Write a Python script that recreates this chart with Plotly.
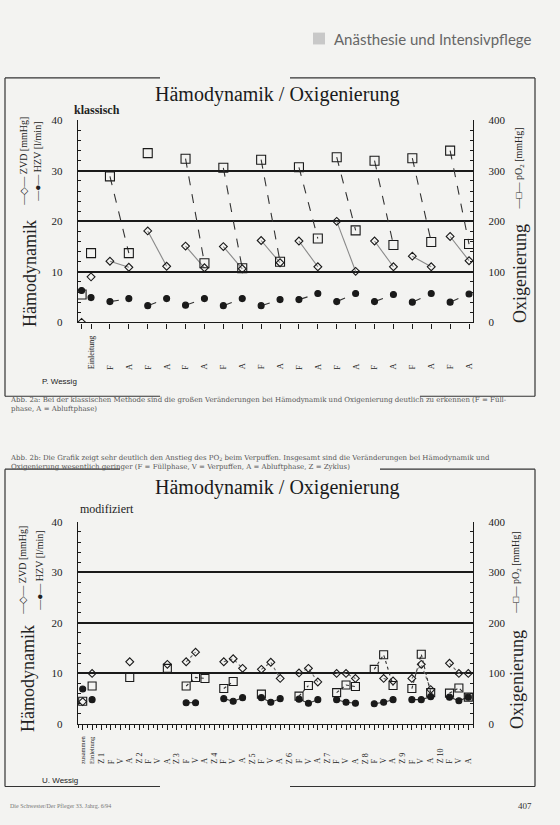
import plotly.graph_objects as go

W, H = 560, 825
def px(x): return x / W
def py(y): return 1 - y / H

# ---------------- data: top chart (klassisch) ----------------
top_pos = [-0.5, 0, 1, 2, 3, 4, 5, 6, 7, 8, 9, 10, 11, 12, 13, 14, 15, 16, 17, 18, 19, 20]
top_labels = ["Einleitung", "F", "A", "F", "A", "F", "A", "F", "A", "F", "A",
              "F", "A", "F", "A", "F", "A", "F", "A", "F", "A"]
top_zvd = [0, 9.0, 12.1, 10.9, 18.1, 11.1, 15.1, 10.8, 15.0, 10.6, 16.2, 11.8,
           16.1, 11.0, 20.0, 10.1, 16.1, 11.0, 13.1, 11.0, 17.0, 12.2]
top_hzv = [6.3, 4.9, 4.1, 4.7, 3.3, 4.7, 3.4, 4.7, 3.3, 4.7, 3.3, 4.5,
           4.5, 5.7, 4.1, 5.7, 4.1, 5.5, 4.0, 5.7, 4.0, 5.6]
top_po2 = [55, 137, 289, 137, 335, None, 324, 117, 306, 107, 322, 120,
           307, 166, 327, 182, 320, 153, 325, 159, 340, 155]

# ---------------- data: bottom chart (modifiziert) ----------------
bot_pos = [0, 1, 5, 9, 11, 12, 13, 15, 16, 17, 19, 20, 21, 23, 24, 25,
           27, 28, 29, 31, 32, 33, 35, 36, 37, 39, 40, 41]
bot_group = [0, 1, 2, 3, 4, 4, 4, 5, 5, 5, 6, 6, 6, 7, 7, 7,
             8, 8, 8, 9, 9, 9, 10, 10, 10, 11, 11, 11]
bot_zvd = [4.4, 10.0, 12.3, 11.8, 12.3, 14.2, None, 12.3, 12.9, 11.0, 10.8, 12.2, 9.0,
           10.1, 11.0, 8.3, 10.0, 10.0, 9.0, None, 9.0, 8.5, 9.0, 11.8, 6.8, 12.0, 10.0, 10.0]
bot_hzv = [6.9, 4.8, None, None, 4.2, 4.2, None, 5.0, 4.5, 5.2, 5.2, 4.3, 5.0,
           4.9, 4.1, 4.8, 4.8, 4.3, 4.1, 4.0, 4.3, 4.8, 4.8, 4.8, 5.4, 5.3, 4.6, 5.3]
bot_po2 = [45, 75, 92, 110, 75, 92, 90, 70, 84, None, 59, None, None,
           55, 76, None, 62, 77, 74, 108, 137, 76, 70, 138, 62, 61, 71, 53]
bot_labels = ["zusammen", "Einleitung"] + sum([["Z " + str(n), "F", "V", "A"] for n in range(1, 11)], [])

# ---------------- helpers ----------------
def pairs(pos, vals, groups):
    xs, ys = [], []
    last = None
    for p, v, g in zip(pos, vals, groups):
        if last is not None and g != last:
            xs.append(None); ys.append(None)
        xs.append(p); ys.append(v)
        last = g
    return xs, ys

top_group = [0, 1] + [2 + (i // 2) for i in range(20)]

fig = go.Figure()
INK = "#1a1a1a"
CLEAR = "rgba(255,255,255,0)"

def add_series(xa, ya, pos, vals, groups, symbol, size, dash, lcolor, mfill):
    xs, ys = pairs(pos, vals, groups)
    fig.add_trace(go.Scatter(
        x=xs, y=ys, xaxis=xa, yaxis=ya, mode="lines+markers",
        connectgaps=False,
        line=dict(color=lcolor, width=1.1, dash=dash),
        marker=dict(symbol=symbol, size=size, color=mfill,
                    line=dict(color=INK, width=1.1)),
        showlegend=False, hoverinfo="skip"))

# top chart
add_series("x", "y2", top_pos, top_po2, top_group, "square", 9, "dash", "#333", CLEAR)
add_series("x", "y", top_pos, top_zvd, top_group, "diamond", 6, "solid", "#888", CLEAR)
add_series("x", "y", top_pos, top_hzv, top_group, "circle", 6, "dash", "#333", INK)
# bottom chart
add_series("x2", "y4", bot_pos, bot_po2, bot_group, "square", 8, "dot", "#333", CLEAR)
add_series("x2", "y3", bot_pos, bot_zvd, bot_group, "diamond", 6, "dot", "#666", CLEAR)
add_series("x2", "y3", bot_pos, bot_hzv, bot_group, "circle", 6, "solid", "#333", INK)

SERIF = "Liberation Serif"
BG = "#f3f3f1"
tickfont = dict(family=SERIF, size=11, color="#222")

xdom = [px(78), px(473)]
top_ydom = [py(321), py(116)]
bot_ydom = [py(728.5), py(523.5)]

def yleft(dom, anchor):
    return dict(domain=dom, anchor=anchor, range=[0, 40], tickvals=[0, 10, 20, 30, 40],
                showgrid=True, gridcolor=INK, gridwidth=1.6, zeroline=False,
                showline=True, linecolor=INK, linewidth=1.4, ticks="inside", ticklen=4,
                tickcolor=INK, ticklabelstandoff=12, tickfont=tickfont,
                minor=dict(dtick=2, ticks="inside", ticklen=3, tickcolor=INK))

def yright(over, anchor):
    return dict(overlaying=over, anchor=anchor, side="right", range=[0, 400],
                tickvals=[0, 100, 200, 300, 400], showgrid=False, zeroline=False,
                showline=True, linecolor=INK, linewidth=1.4, ticks="inside", ticklen=4,
                tickcolor=INK, ticklabelstandoff=12, tickfont=tickfont,
                minor=dict(dtick=20, ticks="inside", ticklen=3, tickcolor=INK))

fig.update_layout(
    width=W, height=H, margin=dict(l=0, r=0, t=0, b=0),
    paper_bgcolor=BG, plot_bgcolor=BG, showlegend=False,
    xaxis=dict(domain=xdom, anchor="y", range=[-0.69, 20.21],
               tickvals=[-0.5] + list(range(0, 21)), showticklabels=False,
               ticks="outside", ticklen=5, tickcolor=INK, showgrid=False, zeroline=False,
               showline=True, linecolor=INK, linewidth=1.4),
    yaxis=yleft(top_ydom, "x"),
    yaxis2=yright("y", "x"),
    xaxis2=dict(domain=xdom, anchor="y3", range=[-0.5, 41.5],
                tickvals=list(range(0, 42)), showticklabels=False,
                ticks="outside", ticklen=5, tickcolor=INK, showgrid=False, zeroline=False,
                showline=True, linecolor=INK, linewidth=1.4,
                minor=dict(dtick=0.5, tick0=0, ticks="outside", ticklen=3, tickcolor=INK)),
    yaxis3=yleft(bot_ydom, "x2"),
    yaxis4=yright("y3", "x2"),
)

ann = []
def text(x, y, s, size, fam=SERIF, color="#222", angle=0, xa="center", ya="middle",
         xref="paper", yref="paper", align="center"):
    ann.append(dict(x=x, y=y, xref=xref, yref=yref, text=s, showarrow=False, textangle=angle,
                    xanchor=xa, yanchor=ya, align=align,
                    font=dict(family=fam, size=size, color=color)))

# header
text(px(533), py(33), "Anästhesie und Intensivpflege", 15, fam="Lato", color="#666", xa="right")

# top chart texts
text(px(277), py(90), "Hämodynamik / Oxigenierung", 20, color="#1a1a1a")
text(px(72), py(106), "<b>klassisch</b>", 12, xa="left")
text(px(30), py(272), "Hämodynamik", 18, angle=-90)
text(px(24), py(158), "—◇— ZVD [mmHg]", 10, angle=-90)
text(px(38), py(158), "—●— HZV [l/min]", 10, angle=-90)
text(px(520), py(272), "Oxigenierung", 18, angle=-90)
text(px(520), py(165), "—□— pO<sub>2</sub> [mmHg]", 10, angle=-90)
for p, lab in zip(top_pos[1:], top_labels):
    text(p, py(371), lab, 8 if lab == "Einleitung" else 8.5, angle=-90, xref="x", ya="bottom")
text(px(40), py(381), "P. Wessig", 8, fam="Liberation Sans", xa="left")

# captions
CAPF = "DejaVu Serif"
text(px(8), py(404), "Abb. 2a: Bei der klassischen Methode sind die großen Veränderungen bei Hämodynamik und Oxigenierung deutlich zu erkennen (F = Füll-<br>phase, A = Abluftphase)",
     7, fam=CAPF, color="#555", xa="left", align="left")
text(px(8), py(463), "Abb. 2b: Die Grafik zeigt sehr deutlich den Anstieg des PO<sub>2</sub> beim Verpuffen. Insgesamt sind die Veränderungen bei Hämodynamik und<br>Oxigenierung wesentlich geringer (F = Füllphase, V = Verpuffen, A = Abluftphase, Z = Zyklus)",
     7, fam=CAPF, color="#555", xa="left", align="left")

# bottom chart texts
text(px(277), py(489), "Hämodynamik / Oxigenierung", 20, color="#1a1a1a")
text(px(78), py(510), "modifiziert", 12, xa="left")
text(px(28), py(683), "Hämodynamik", 18, angle=-90)
text(px(23), py(573), "—◇— ZVD [mmHg]", 10, angle=-90)
text(px(40), py(573), "—●— HZV [l/min]", 10, angle=-90)
text(px(517), py(684), "Oxigenierung", 18, angle=-90)
text(px(517), py(575), "—□— pO<sub>2</sub> [mmHg]", 10, angle=-90)
for i, lab in enumerate(bot_labels):
    text(i, py(771), lab, 6.5 if i < 2 else 8, angle=-90, xref="x2", ya="bottom")
text(px(40), py(786), "U. Wessig", 8, fam="Liberation Sans", xa="left")

# footer
text(px(525), py(812), "407", 9, color="#333")
text(px(8), py(812), "Die Schwester/Der Pfleger 33. Jahrg. 6/94", 6, color="#777", xa="left")

fig.update_layout(annotations=ann)

shapes = []
def line(x0, y0, x1, y1, w=1.2, c="#333"):
    shapes.append(dict(type="line", xref="paper", yref="paper", x0=px(x0), y0=py(y0),
                       x1=px(x1), y1=py(y1), line=dict(color=c, width=w)))
# header square
shapes.append(dict(type="rect", xref="paper", yref="paper", x0=px(313), x1=px(325),
                   y0=py(39), y1=py(27), fillcolor="#c8c8c8", line=dict(width=0)))
# top box
line(5, 73, 160, 73); line(290, 73, 535, 73)
line(535, 73, 535, 396); line(5, 73, 5, 396)
line(5, 396, 160, 396); line(420, 396, 535, 396)
# bottom box
line(5, 470, 120, 470); line(380, 470, 535, 470)
line(535, 470, 535, 792); line(5, 470, 5, 792)
line(5, 792, 160, 792); line(290, 792, 535, 792)
fig.update_layout(shapes=shapes)

post = ("document.documentElement.style.margin='0';"
        "document.documentElement.style.overflow='hidden';"
        "document.body.style.margin='0';document.body.style.overflow='hidden';"
        "var d=document.getElementById('{plot_id}');"
        "d.style.position='absolute';d.style.left='0px';d.style.top='0px';")
fig.write_html("out.html", config={"displayModeBar": False}, post_script=post)
